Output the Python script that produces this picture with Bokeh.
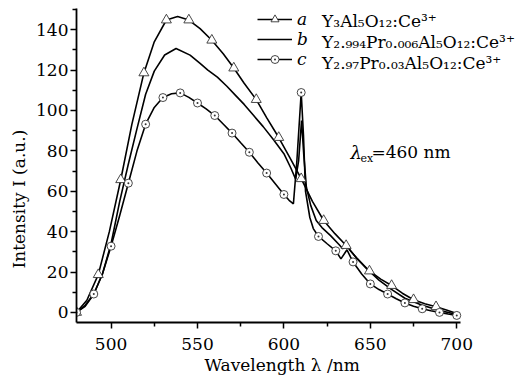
from bokeh.plotting import figure
from bokeh.models import FixedTicker, Label, Legend, LegendItem, Title
from bokeh.embed import file_html
from bokeh.resources import INLINE

# ---------------- data ----------------
a_wl = [480, 486, 492.6, 499, 505.6, 512, 519, 525, 532, 538.5, 545, 551.5, 558.3, 565, 571,
        577, 584, 590, 597, 603.5, 610, 616.5, 623, 629.5, 636, 642.5, 649.5, 656, 662.3,
        668.5, 675, 681.5, 688, 694, 700]
a_int = [0, 6, 18.7, 40, 65.7, 93, 118.6, 134, 144.8, 146.5, 144.8, 140.5, 134.8, 128, 121,
         113.5, 105.4, 96.5, 86.6, 76.5, 66.2, 55, 45.5, 39, 33.1, 26.5, 20.5, 16.5, 13.3,
         9.5, 6.3, 4.3, 2.8, 1.2, -0.5]
a_mk_wl = [480, 492.6, 505.6, 519, 532, 545, 558.3, 571, 584, 597, 610, 623, 636, 649.5,
           662.3, 675, 688]
a_mk_int = [0, 18.7, 65.7, 118.6, 144.8, 144.8, 134.8, 121, 105.4, 86.6, 66.2, 45.5, 33.1,
            20.5, 13.3, 6.3, 2.8]

b_wl = [480, 485, 490, 495, 500, 505, 510, 515, 520, 525, 531, 537.6, 545.7, 551.5, 556,
        561.5, 567, 572, 577, 582, 588, 594, 600, 604, 606.8, 608.5, 610.2, 611.5, 613,
        615.5, 618.7, 622, 627, 632, 634, 636.5, 638.5, 642, 648, 655, 662, 670, 680, 690, 700]
b_int = [0, 3, 9, 19, 34, 55, 73.5, 91, 108, 119.5, 127.5, 130.7, 127.4, 123.3, 120,
         116.5, 112, 107.5, 103, 98, 92, 85.5, 78.6, 71.5, 66, 75, 95, 78, 62,
         53, 45.5, 42, 38, 33.5, 31.5, 34, 30.5, 27, 21.5, 16, 11.5, 7, 3.5, 1, -1]

c_wl = [480, 485, 490, 495, 500, 505, 510, 515, 520, 525, 530, 535, 540, 545, 550, 555, 560,
        565, 570, 575, 580, 585, 590, 595, 600, 603, 605.5, 607.5, 610, 611.3, 612.5, 615,
        617, 620, 625, 630, 633, 636.5, 638.5, 640, 645, 650, 655, 660, 665, 670, 675, 680,
        685, 690, 695, 700]
c_int = [0, 3.5, 9.1, 19, 32.8, 48, 64, 80, 93.2, 101.5, 106.4, 108.3, 108.7, 106.5, 103.7,
         100.8, 97.5, 93.2, 88.8, 84, 79.3, 74, 69, 63.7, 58.4, 55.5, 53.8, 75, 108.9, 88,
         60, 47, 41.5, 37.6, 34, 30.5, 26.5, 31, 27.5, 25, 19, 14.1, 11.3, 9.1, 6.8, 4.7,
         3.1, 1.8, 0.8, 0, -0.8, -1.5]
c_mk_wl = [480, 490, 500, 510, 520, 530, 540, 550, 560, 570, 580, 590, 600, 610, 620, 630,
           640, 650, 660, 670, 680, 690, 700]
c_mk_int = [0, 9.1, 32.8, 64, 93.2, 106.4, 108.7, 103.7, 97.5, 88.8, 79.3, 69, 58.4, 108.9,
            37.6, 30.5, 25, 14.1, 9.1, 4.7, 1.8, 0, -1.5]

x_major = [500, 550, 600, 650, 700]
x_minor = [525, 575, 625, 675]
y_major = [0, 20, 40, 60, 80, 100, 120, 140]
y_minor = [10, 30, 50, 70, 90, 110, 130, 150]

series_keys = ["a", "b", "c"]
formulas = ["Y₃Al₅O₁₂:Ce³⁺", "Y₂.₉₉₄Pr₀.₀₀₆Al₅O₁₂:Ce³⁺", "Y₂.₉₇Pr₀.₀₃Al₅O₁₂:Ce³⁺"]
x_title = "Wavelength λ /nm"
y_title = "Intensity I (a.u.)"

# ---------------- figure ----------------
FONT = "DejaVu Serif"
p = figure(width=519, height=377, x_range=(480, 736.3), y_range=(-5, 150.5),
           output_backend="svg", toolbar_location=None,
           min_border_left=76, min_border_right=0, min_border_top=8, min_border_bottom=55)
p.grid.visible = False
p.outline_line_color = None
p.background_fill_color = "white"

for ax in (p.xaxis[0], p.yaxis[0]):
    ax.axis_line_width = 1.8
    ax.axis_line_color = "black"
    ax.major_tick_line_width = 1.5
    ax.minor_tick_line_width = 1.5
    ax.major_tick_in = 0
    ax.major_tick_out = 6
    ax.minor_tick_in = 0
    ax.minor_tick_out = 4
    ax.major_label_text_font = FONT
    ax.major_label_text_font_size = "17px"
    ax.major_label_text_color = "black"
p.xaxis.ticker = FixedTicker(ticks=x_major, minor_ticks=x_minor)
p.yaxis.ticker = FixedTicker(ticks=y_major, minor_ticks=y_minor)
p.xaxis.bounds = (480, 702)
p.xaxis.major_label_standoff = 9
p.yaxis.major_label_standoff = 2

la = p.line(a_wl, a_int, line_color="black", line_width=1.6)
lb = p.line(b_wl, b_int, line_color="black", line_width=1.6)
lc = p.line(c_wl, c_int, line_color="black", line_width=1.6)
ma = p.scatter(a_mk_wl, a_mk_int, marker="triangle", size=10, fill_color="white",
               line_color="#333333", line_width=0.9)
mc = p.scatter(c_mk_wl, c_mk_int, marker="circle_dot", size=8, fill_color="white",
               line_color="#333333", line_width=0.9)

legend = Legend(items=[LegendItem(label=series_keys[0], renderers=[la, ma]),
                       LegendItem(label=series_keys[1], renderers=[lb]),
                       LegendItem(label=series_keys[2], renderers=[lc, mc])],
                location=(181, 253), padding=0, spacing=0, margin=0,
                glyph_width=35, glyph_height=20, label_height=20, label_standoff=5,
                label_text_font=FONT, label_text_font_style="italic",
                label_text_font_size="17px", label_text_color="black",
                border_line_alpha=0, background_fill_alpha=0)
p.add_layout(legend)

for f, yv in zip(formulas, [144.4, 134.0, 123.3]):
    p.add_layout(Label(x=622.1, y=yv, text=f, text_font=FONT, text_font_size="17px",
                       text_baseline="alphabetic", text_align="left", text_color="black"))

# lambda_ex annotation
p.add_layout(Label(x=638.5, y=79.3, text="λ", text_font=FONT, text_font_style="italic",
                   text_font_size="18px", text_baseline="alphabetic", text_color="black"))
p.add_layout(Label(x=638.5, y=79.3, x_offset=10, y_offset=-6, text="ex", text_font=FONT,
                   text_font_size="11px", text_baseline="alphabetic", text_color="black"))
p.add_layout(Label(x=638.5, y=79.3, x_offset=21, text="=460 nm", text_font=FONT,
                   text_font_size="17px", text_baseline="alphabetic", text_color="black"))

# axis titles
p.add_layout(Title(text=x_title, align="left", offset=128, standoff=0, text_font=FONT,
                   text_font_size="17px", text_font_style="normal", text_color="black"),
             "below")
p.add_layout(Title(text=y_title, align="left", offset=54, standoff=9, text_font=FONT,
                   text_font_size="17px", text_font_style="normal", text_color="black"),
             "left")

open("out.html", "w").write(file_html(p, INLINE))
